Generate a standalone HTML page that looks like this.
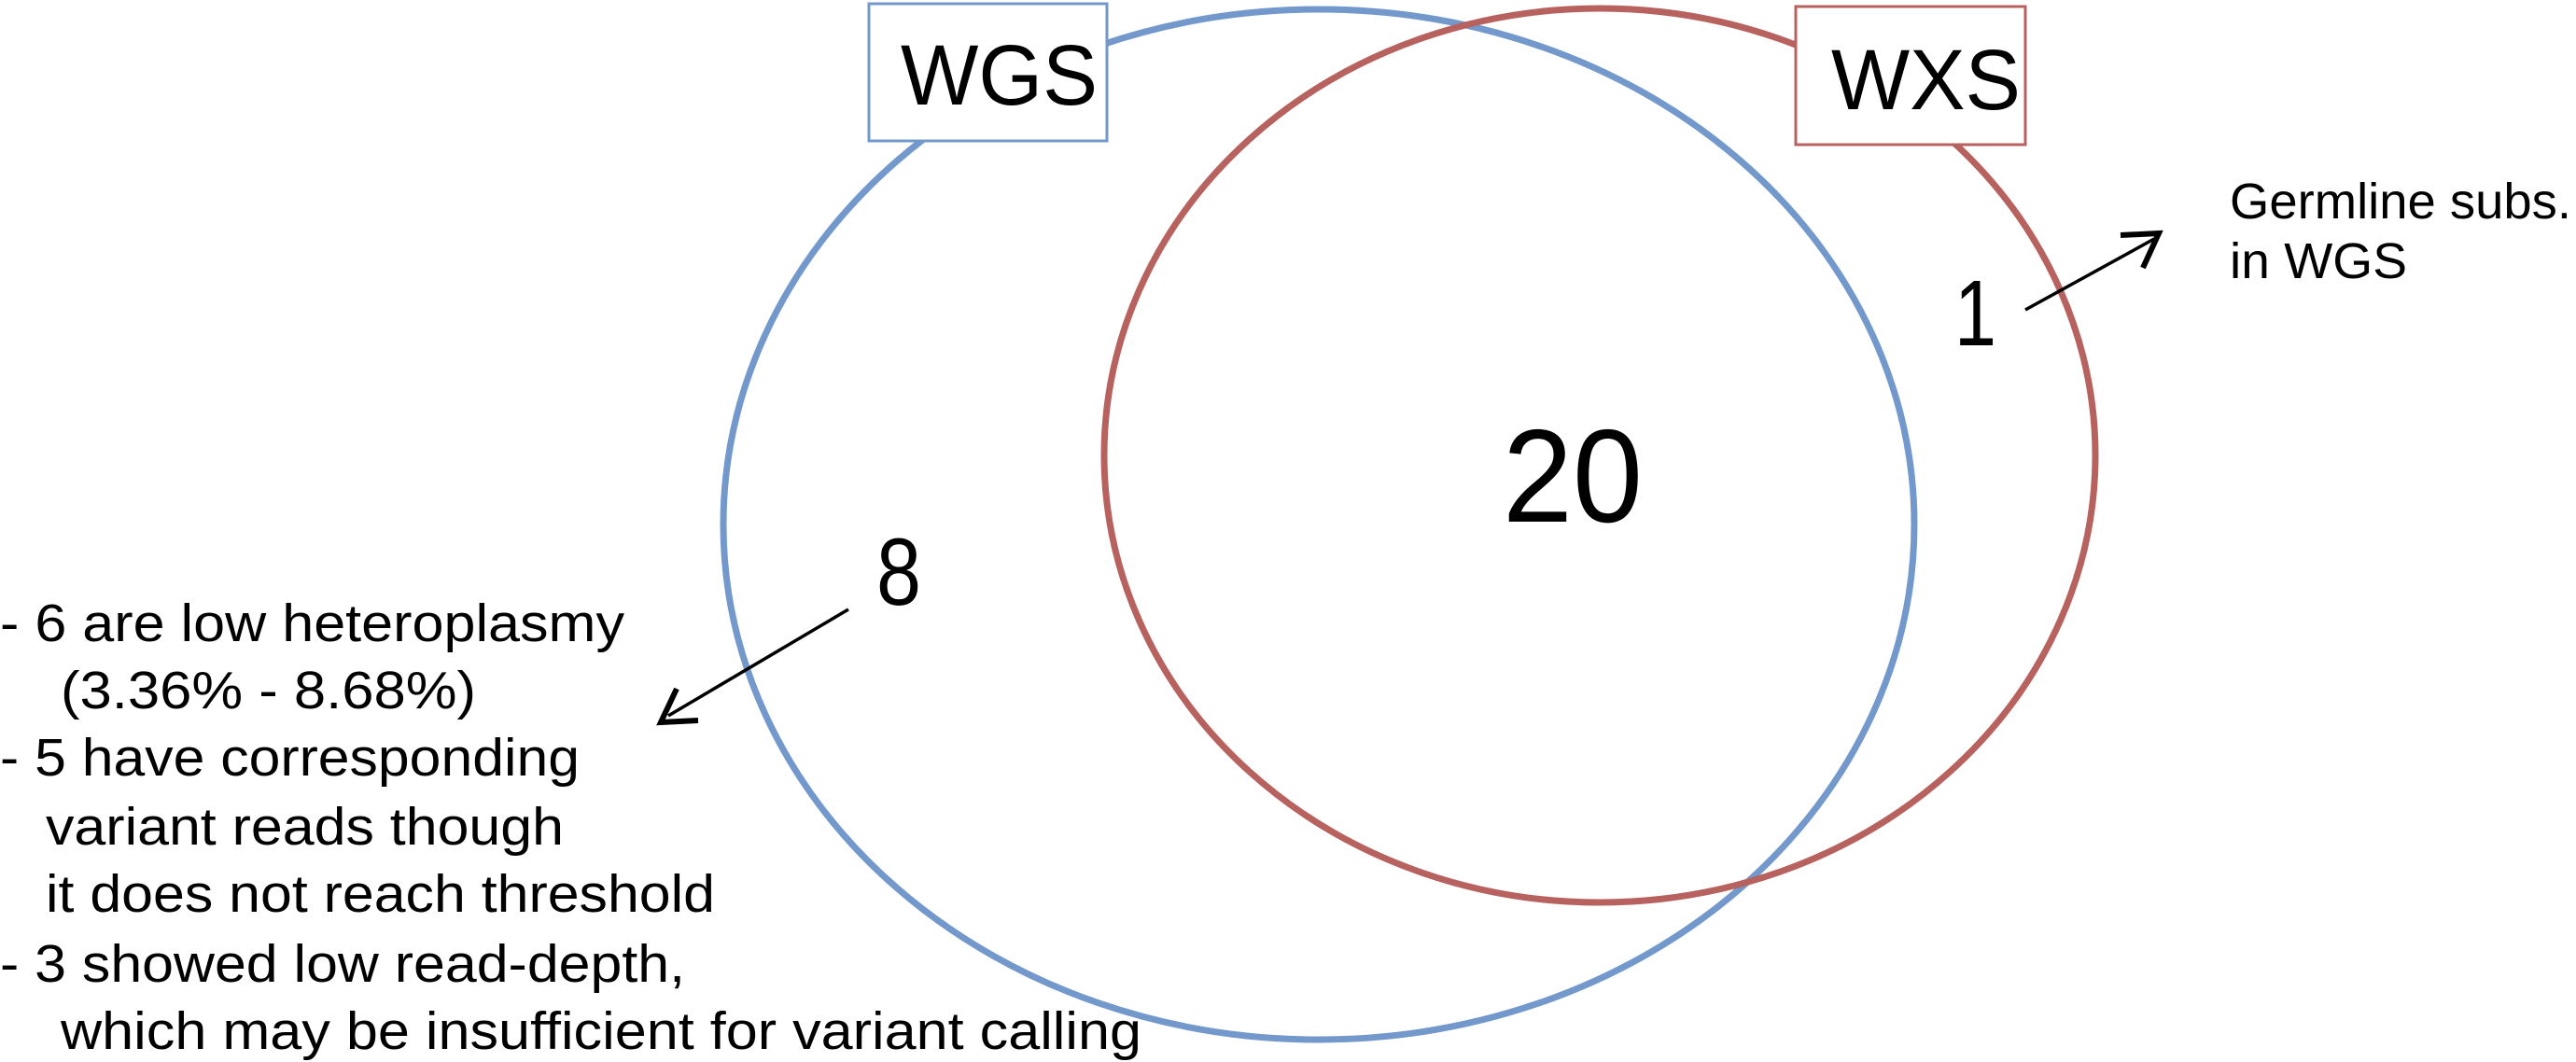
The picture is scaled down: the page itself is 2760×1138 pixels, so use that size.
<!DOCTYPE html>
<html><head><style>html,body{margin:0;padding:0;background:#fff}svg{display:block}</style></head>
<body>
<svg width="2760" height="1138" viewBox="0 0 2760 1138" xmlns="http://www.w3.org/2000/svg" font-family="Liberation Sans, sans-serif">
<ellipse cx="1413" cy="562" rx="638" ry="552" fill="none" stroke="#7398cb" stroke-width="7"/>
<ellipse cx="1714" cy="488" rx="531" ry="479" fill="none" stroke="#b7625e" stroke-width="7"/>
<rect x="931" y="4" width="255" height="147" fill="#fff" stroke="#7398cb" stroke-width="3"/>
<text x="965" y="112" font-size="92" textLength="211" lengthAdjust="spacingAndGlyphs">WGS</text>
<rect x="1924" y="7" width="246" height="148" fill="#fff" stroke="#b7625e" stroke-width="3"/>
<text x="1962" y="117" font-size="92" textLength="203" lengthAdjust="spacingAndGlyphs">WXS</text>
<text x="1610" y="559" font-size="142" textLength="150" lengthAdjust="spacingAndGlyphs">20</text>
<text x="939" y="648" font-size="102" textLength="48" lengthAdjust="spacingAndGlyphs">8</text>
<text x="2094" y="370" font-size="100" textLength="45" lengthAdjust="spacingAndGlyphs">1</text>
<text x="2389" y="234" font-size="54" textLength="366" lengthAdjust="spacingAndGlyphs">Germline subs.</text>
<text x="2389" y="298" font-size="54" textLength="190" lengthAdjust="spacingAndGlyphs">in WGS</text>
<g stroke="#000" stroke-width="3.5" fill="none">
<line x1="2170" y1="332" x2="2308" y2="256"/>
<polyline points="2272,252 2313,250 2296,287" stroke-width="6" stroke-linejoin="miter"/>
<line x1="909" y1="653" x2="716" y2="767"/>
<polyline points="725,738 708,774 748,772" stroke-width="6"/>
</g>
<g font-size="57">
<text x="0" y="687" textLength="669" lengthAdjust="spacingAndGlyphs">- 6 are low heteroplasmy</text>
<text x="65" y="759" textLength="445" lengthAdjust="spacingAndGlyphs">(3.36% - 8.68%)</text>
<text x="0" y="831" textLength="621" lengthAdjust="spacingAndGlyphs">- 5 have corresponding</text>
<text x="49" y="905" textLength="555" lengthAdjust="spacingAndGlyphs">variant reads though</text>
<text x="49" y="977" textLength="717" lengthAdjust="spacingAndGlyphs">it does not reach threshold</text>
<text x="0" y="1052" textLength="734" lengthAdjust="spacingAndGlyphs">- 3 showed low read-depth,</text>
<text x="65" y="1124" textLength="1158" lengthAdjust="spacingAndGlyphs">which may be insufficient for variant calling</text>
</g>
</svg>
</body></html>
